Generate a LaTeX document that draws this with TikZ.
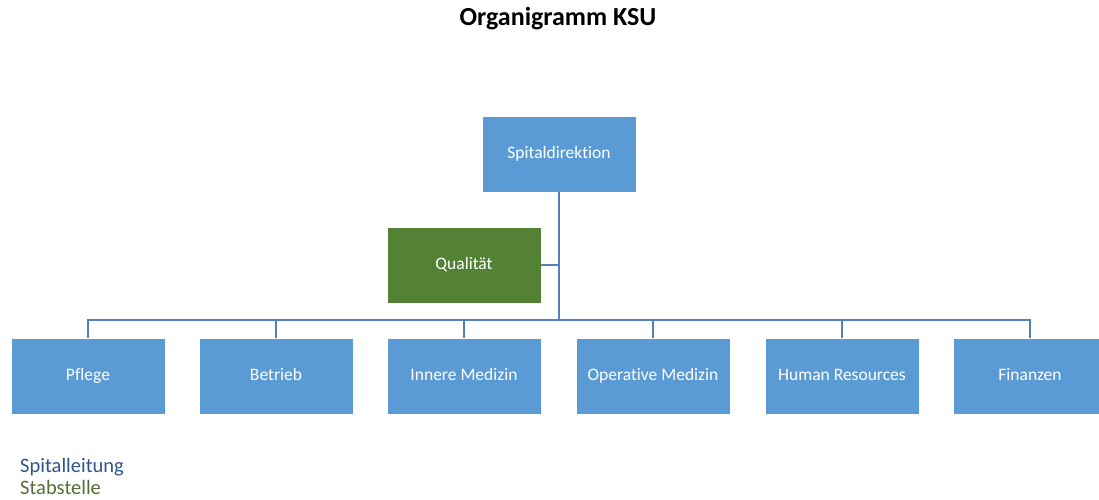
\documentclass[tikz,border=0pt]{standalone}
\usepackage{fontspec}
\setmainfont{Carlito}[Ligatures=NoCommon]
\definecolor{boxblue}{RGB}{91,155,213}
\definecolor{boxgreen}{RGB}{84,130,53}
\definecolor{linecol}{RGB}{79,129,189}
\definecolor{legblue}{RGB}{47,84,140}
\definecolor{leggreen}{RGB}{84,110,55}
\begin{document}
\begin{tikzpicture}[x=1pt,y=-1pt,
  orgbox/.style={fill=boxblue,draw=white,line width=0.8pt,minimum width=154pt,minimum height=76pt,inner sep=0pt,text=white,font=\fontsize{17.5}{20}\selectfont,text height=12pt,text depth=2.5pt},
  staffbox/.style={orgbox,fill=boxgreen},
  conn/.style={draw=linecol,line width=1.6pt},
  legend/.style={anchor=base west,font=\fontsize{20.5}{24}\selectfont,inner sep=0pt}]
\useasboundingbox (0,0) rectangle (1099,500);
\node[font=\bfseries\fontsize{26}{30}\selectfont] (title) at (558,19) {Organigramm KSU};
\node[orgbox] (dir) at (559,154) {Spitaldirektion};
\node[staffbox] (qual) at (464,265) {Qualität};
\node[orgbox] (b1) at (88,376) {Pflege};
\node[orgbox] (b2) at (276,376) {Betrieb};
\node[orgbox] (b3) at (464,376) {Innere Medizin};
\node[orgbox] (b4) at (653,376) {Operative Medizin};
\node[orgbox] (b5) at (842,376) {Human Resources};
\node[orgbox] (b6) at (1030,376) {Finanzen};
\coordinate (hub) at (559,320);
\draw[conn] (dir.south) -- (hub);
\draw[conn] (qual.east) -- (qual.east -| hub);
\foreach \b in {b1,b2,b3,b4,b5,b6}{
  \draw[conn] (hub) -| (\b.north);
}
\node[legend,text=legblue] (leg1) at (20,472) {Spitalleitung};
\node[legend,text=leggreen] (leg2) at (20,494) {Stabstelle};
\end{tikzpicture}
\end{document}
